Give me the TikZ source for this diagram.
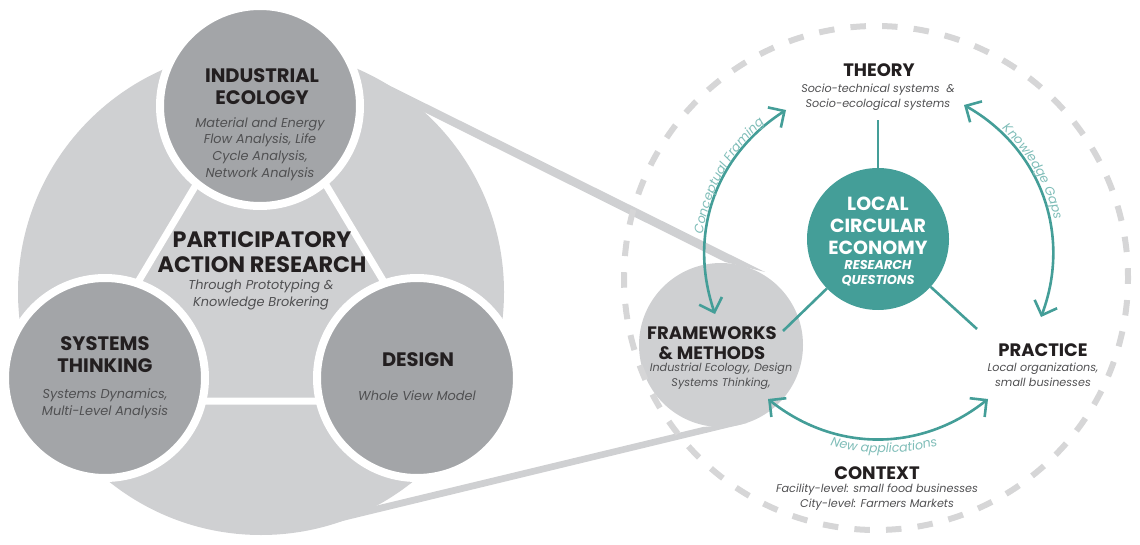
\documentclass[tikz,border=0pt]{standalone}
\usepackage{fontspec}
\setmainfont{Poppins}
\usetikzlibrary{arrows.meta,decorations.text,calc}
\definecolor{biggrey}{HTML}{CFD0D2}
\definecolor{darkgrey}{HTML}{A3A5A8}
\definecolor{inkdark}{HTML}{231F20}
\definecolor{inksoft}{HTML}{505052}
\definecolor{tealc}{HTML}{449E98}
\definecolor{tealtext}{HTML}{7FBDB8}
\definecolor{dashgrey}{HTML}{D6D6D7}
\tikzset{
  discdark/.style={circle,fill=darkgrey,draw=white,line width=8pt,minimum size=200pt,inner sep=0pt},
  head/.style={font=\fontsize{19.5}{22}\selectfont\bfseries,text=inkdark,align=center,inner sep=0pt},
  headr/.style={font=\fontsize{18}{20}\selectfont\bfseries,text=inkdark,align=center,inner sep=0pt},
  bighead/.style={font=\fontsize{22.3}{25}\selectfont\bfseries,text=inkdark,align=center,inner sep=0pt},
  sub/.style={font=\fontsize{12.9}{16.7}\selectfont\itshape,text=inksoft,align=center,inner sep=0pt},
  subr/.style={font=\fontsize{11.2}{15}\selectfont\itshape,text=inksoft,align=center,inner sep=0pt},
  teallink/.style={draw=tealc,line width=2.6pt},
  tealarrow/.style={teallink,{Straight Barb[length=12pt,width=24pt,line width=2.6pt]}-{Straight Barb[length=12pt,width=24pt,line width=2.6pt]}},
}
\begin{document}
\begin{tikzpicture}[x=1pt,y=-1pt]
\useasboundingbox (0,0) rectangle (1140,545);
% large grey disc
\fill[biggrey] (261,292) circle[radius=243];
% zoom band
\fill[biggrey] (360,71) -- (765,272) -- (725,262) -- (422,111) -- cycle;
\fill[biggrey] (377,505.5) -- (703,427) -- (747,423) -- (330,524) -- cycle;
% white triangle
\coordinate (ta) at (261,76);
\coordinate (tb) at (67,401);
\coordinate (tc) at (455,401);
\draw[white,line width=7pt] (ta) -- (tb) -- (tc) -- cycle;
% dark discs
\node[discdark] (ie) at (260,106) {};
\node[discdark] (st) at (105,378) {};
\node[discdark] (de) at (417,378) {};
% right side
\fill[biggrey] (721,345) circle[radius=82];
\draw[dashgrey,line width=6pt,dash pattern=on 15.5pt off 16.167pt,dash phase=9.6pt] (876,278) circle[radius=252];
\node[circle,fill=tealc,minimum size=142pt,inner sep=0pt] (lce) at (878,239) {};
% connector anchors
\coordinate (thA) at (878,120);
\coordinate (fmA) at (783,331);
\coordinate (prA) at (977,329);
\draw[teallink] (lce) -- (thA);
\draw[teallink] (lce) -- (fmA);
\draw[teallink] (lce) -- (prA);
\coordinate (a1) at (786,110);
\coordinate (a2) at (715,314);
\coordinate (b1) at (964,105);
\coordinate (b2) at (1041,317);
\coordinate (c1) at (768,399);
\coordinate (c2) at (988,399);
\draw[tealarrow] (a1) to[bend right=38] (a2);
\draw[tealarrow] (b1) to[bend left=40.5] (b2);
\draw[tealarrow] (c1) to[bend right=38.5] (c2);
% curved labels
\path[decorate,decoration={text along path,text align=center,
  text={|\fontsize{12.6}{12}\selectfont\itshape\color{tealtext}|Conceptual Framing}}]
  (880,260) ++(-191:179) arc[start angle=-191,end angle=-111,radius=179];
\path[decorate,decoration={text along path,text align=center,
  text={|\fontsize{12.6}{12}\selectfont\itshape\color{tealtext}|Knowledge Gaps}}]
  (880,260) ++(-70:179) arc[start angle=-70,end angle=10,radius=179];
\path[decorate,decoration={text along path,text align=center,
  text={|\fontsize{12.6}{13}\selectfont\itshape\color{tealtext}|New applications}}]
  (884,262) ++(-230:191) arc[start angle=-230,end angle=-310,radius=191];
% texts
\node[head] (t1) at (262,87) {INDUSTRIAL\\ECOLOGY};
\node[sub] (t2) at (260,149) {Material and Energy\\Flow Analysis, Life\\Cycle Analysis,\\Network Analysis};
\node[bighead] (t3) at (262,252) {PARTICIPATORY\\ACTION RESEARCH};
\node[sub] (t4) at (261,295) {Through Prototyping \&\\Knowledge Brokering};
\node[head] (t5) at (105,355) {SYSTEMS\\THINKING};
\node[sub] (t6) at (105,404) {Systems Dynamics,\\Multi-Level Analysis};
\node[head] (t7) at (418,360) {DESIGN};
\node[sub] (t8) at (417,396) {Whole View Model};
\node[headr] (t9) at (879,70) {THEORY};
\node[subr] (t10) at (878,97) {Socio-technical systems~~\&\\Socio-ecological systems};
\node[font=\fontsize{19}{22}\selectfont\bfseries,text=white,align=center,inner sep=0pt] (t11) at (878,226) {LOCAL\\CIRCULAR\\ECONOMY};
\node[font=\fontsize{12.8}{14.5}\selectfont\bfseries\itshape,text=white,align=center,inner sep=0pt] (t12) at (878,273) {RESEARCH\\QUESTIONS};
\node[headr] (t13) at (712,343) {FRAMEWORKS\\\&~METHODS};
\node[subr] (t14) at (721,376) {Industrial Ecology, Design\\Systems Thinking,};
\node[headr] (t15) at (1043,350) {PRACTICE};
\node[subr] (t16) at (1043,375) {Local organizations,\\small businesses};
\node[headr] (t17) at (877,473) {CONTEXT};
\node[subr] (t18) at (877,497) {Facility-level: small food businesses\\City-level: Farmers Markets};
\end{tikzpicture}
\end{document}
